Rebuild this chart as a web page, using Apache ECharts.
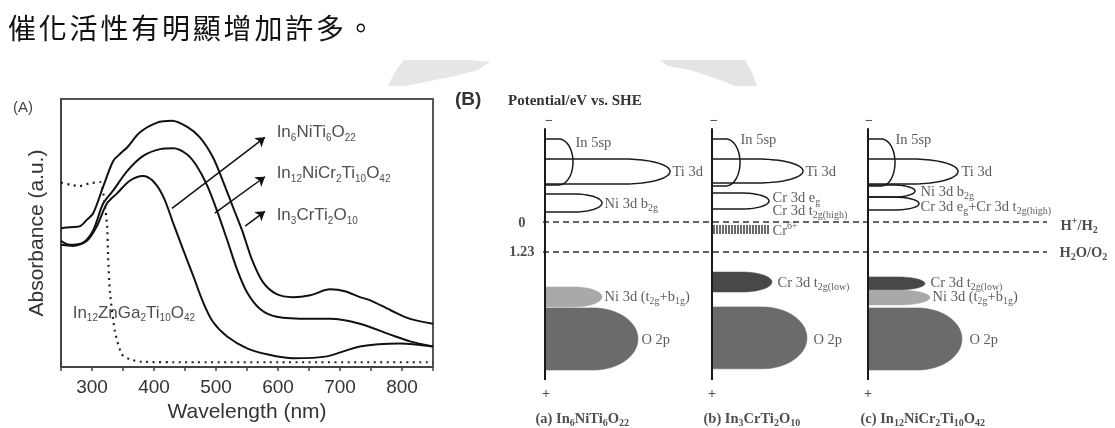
<!DOCTYPE html>
<html><head><meta charset="utf-8">
<script src="https://cdn.jsdelivr.net/npm/echarts@6/dist/echarts.min.js"></script>
<style>html,body{margin:0;padding:0;background:#fff}#c{width:1115px;height:428px}</style>
</head><body><div id="c"></div>
<script>
// ---------- Panel A: absorbance spectra (wavelength nm, absorbance a.u.) ----------
const specIn3CrTi2O10 = [[250,51.8],[265,52.2],[281,52.6],[292,55],[302,57.4],[318,67.3],[334,76.8],[345,79.5],[357,82.0],[377,87.5],[405,91.2],[429,91.9],[453,89.7],[474,85.7],[495,78.3],[511,69.5],[527,59.9],[542,51.1],[558,40.1],[576,31.6],[598,27.2],[624,26.1],[652,26.8],[684,29.0],[708,28.3],[732,26.1],[748,25.0],[781,21.3],[813,18.0],[850,16.2]];
const specIn12NiCr2Ti10O42 = [[250,47.1],[264,45.6],[285,46.3],[302,51.1],[318,61.0],[334,65.8],[357,73.2],[382,78.7],[410,81.3],[431,81.6],[453,79.4],[469,75.0],[486,67.6],[502,58.1],[518,47.4],[534,36.4],[550,27.9],[571,21.7],[598,18.8],[652,18.0],[684,18.0],[732,16.2],[781,12.1],[813,9.6],[850,7.7]];
const specIn6NiTi6O22 = [[250,45.6],[269,45.2],[292,47.1],[308,52.6],[324,61.0],[340,64.7],[361,69.5],[382,71.3],[398,69.5],[415,63.6],[431,53.7],[447,43.8],[463,34.2],[479,24.3],[495,16.9],[518,11.4],[550,7.0],[582,4.8],[624,3.3],[679,4.0],[732,7.7],[797,8.8],[850,7.7]];
const specIn12ZnGa2Ti10O42 = [[250,68.8],[265,68.0],[280,67.5],[295,68.5],[313,69.0],[324,53.7],[326,40.8],[329,27.9],[337,13.2],[348,4.8],[361,2.9],[380,2.0],[450,1.8],[600,1.8],[850,1.8]];
const xTicksA = [300,400,500,600,700,800];
// label anchors [wavelength, absorbance, text]
const labelsA = [
  [597,87.5,'In{s|6}NiTi{s|6}O{s|22}'],
  [597,72.1,'In{s|12}NiCr{s|2}Ti{s|10}O{s|42}'],
  [597,56.6,'In{s|3}CrTi{s|2}O{s|10}'],
  [268,20.2,'In{s|12}ZnGa{s|2}Ti{s|10}O{s|42}']
];
// arrows [from wl, from abs, to wl, to abs]
const arrowsA = [[429,59.2,579,85.7],[498,57.4,579,71.0],[547,52.6,579,58.1]];

// ---------- Panel B: band diagrams (potential eV vs SHE) ----------
const columnOrigins = [105,272,428];           // DOS origin of columns a,b,c
const columnSpan = [-3.84,6.48];               // potential range of each column axis
const bandStates = ['empty','Ni','Cr','O','Cr6'];
// [column, E top, E bottom, DOS extent, state]
const bands = [
  [0,-3.40,-1.52,28,'empty'],[0,-2.58,-1.56,125,'empty'],[0,-1.15,-0.41,57,'empty'],[0,2.66,3.48,57,'Ni'],[0,3.52,6.07,93,'O'],
  [1,-3.40,-1.48,28,'empty'],[1,-2.58,-1.60,91,'empty'],[1,-1.19,-0.53,57,'empty'],[1,0.12,0.49,56,'Cr6'],[1,2.05,2.87,60,'Cr'],[1,3.48,6.02,95,'O'],
  [2,-3.40,-1.48,27,'empty'],[2,-2.58,-1.56,90,'empty'],[2,-1.52,-1.02,47,'empty'],[2,-1.02,-0.49,51,'empty'],[2,2.25,2.79,57,'Cr'],[2,2.79,3.40,62,'Ni'],[2,3.52,6.07,94,'O']
];
const redoxLevels = [0,1.23];
const redoxSpan = [103,607];
// [DOS x, E, text, side]
const labelsB = [
  [135,-3.24,'In 5sp','r'],[232,-2.05,'Ti 3d','r'],[164,-0.74,'Ni 3d b{s|2g}','r'],[164,3.07,'Ni 3d (t{s|2g}+b{s|1g})','r'],[201,4.84,'O 2p','r'],
  [300,-3.36,'In 5sp','r'],[365,-2.05,'Ti 3d','r'],[332,-0.98,'Cr 3d e{s|g}','r'],[332,-0.45,'Cr 3d t{s|2g(high)}','r'],[332,0.37,'Cr{u|6+}','r'],[337,2.5,'Cr 3d t{s|2g(low)}','r'],[373,4.84,'O 2p','r'],
  [455,-3.36,'In 5sp','r'],[521,-2.05,'Ti 3d','r'],[480,-1.23,'Ni 3d b{s|2g}','r'],[480,-0.61,'Cr 3d e{s|g}+Cr 3d t{s|2g(high)}','r'],[490,2.5,'Cr 3d t{s|2g(low)}','r'],[492,3.07,'Ni 3d (t{s|2g}+b{s|1g})','r'],[529,4.84,'O 2p','r']
];
const labelsBBold = [
  [86,0.04,'0','l'],[95,1.23,'1.23','l'],
  [620,0.16,'H{u|+}/H{s|2}','r'],[619,1.27,'H{s|2}O/O{s|2}','r'],
  [95,8.07,'(a) In{s|6}NiTi{s|6}O{s|22}','r'],[263,8.07,'(b) In{s|3}CrTi{s|2}O{s|10}','r'],[420,8.07,'(c) In{s|12}NiCr{s|2}Ti{s|10}O{s|42}','r']
];
const signLabels = [
  [109,-4.14,'\u2212'],[274,-4.14,'\u2212'],[429,-4.14,'\u2212'],
  [106,7.05,'+'],[272,7.05,'+'],[428,7.05,'+']
];
const headline = '催化活性有明顯增加許多。';

const SANS = 'Liberation Sans', SERIF = 'Liberation Serif';
function richSet(fam, sub, weight, color){
  return {
    s:{fontFamily:fam,fontSize:sub,fontWeight:weight,verticalAlign:'bottom',lineHeight:sub,color:color},
    u:{fontFamily:fam,fontSize:sub,fontWeight:weight,verticalAlign:'top',lineHeight:sub,color:color}
  };
}
function labelSeries(arr, xi, yi, fam, size, sub, weight, color){
  return {
    type:'scatter', xAxisIndex:xi, yAxisIndex:yi, symbolSize:1, silent:true, clip:false,
    itemStyle:{color:'transparent'}, z:10,
    data: arr.map(r=>({
      value:[r[0],r[1]],
      label:{show:true, formatter:r[2],
        position: r[3]==='l'?'left':(r[3]==='c'?'inside':'right'), distance:0,
        fontFamily:fam, fontSize:size, fontWeight:weight, color:color, lineHeight:size+4,
        rich:richSet(fam,sub,weight,color)}
    }))
  };
}

function renderBand(params, api){
  const x0=api.value(0), e1=api.value(1), e2=api.value(2), w=api.value(3), st=bandStates[api.value(4)];
  const a=api.coord([x0,e1]), b=api.coord([x0+w,e2]);
  const L=a[0], T=a[1], R=b[0], B=b[1];
  if(st==='Cr6'){
    const ch=[];
    for(let x=L+2;x<=R;x+=3) ch.push({type:'line',shape:{x1:x,y1:T,x2:x,y2:B},style:{stroke:'#505050',lineWidth:1.7}});
    return {type:'group',children:ch};
  }
  const W=R-L, ry=(B-T)/2, M=(T+B)/2;
  const rx=Math.min(W*0.5,45), xs=R-rx;
  const pts=[[L,T],[xs,T]];
  for(let i=1;i<40;i++){const t=-Math.PI/2+Math.PI*i/40; pts.push([xs+rx*Math.cos(t), M+ry*Math.sin(t)]);}
  pts.push([xs,B],[L,B]);
  const fill={empty:'none',Ni:'#a9a9a9',Cr:'#484848',O:'#6b6b6b'}[st];
  return {type:'polygon',shape:{points:pts},
    style: st==='empty'?{fill:'none',stroke:'#1a1a1a',lineWidth:1.5}:{fill:fill,stroke:fill,lineWidth:0.5}};
}

const headlineGraphics = Array.from(headline).map((ch,i)=>({
  type:'text', left:8+i*30.8, top:14, style:{text:ch, font:'28px "Noto Sans CJK TC"', fill:'#111'}
}));
// faint watermark remnants above the figure
const watermark = [
  {type:'polygon',shape:{points:[[388,86],[395,72],[404,60],[440,60],[470,60],[490,62],[478,70],[455,76],[425,82],[405,86]]},style:{fill:'#e6e6e6'},z:-1},
  {type:'polygon',shape:{points:[[660,60],[745,60],[752,72],[757,86],[735,86],[715,78],[690,70],[668,66]]},style:{fill:'#e4e4e4'},z:-1}
];

const lineStyleA = {color:'#111',width:2};
const chart = echarts.init(document.getElementById('c'),null,{renderer:'canvas'});
chart.setOption({
  animation:false,
  backgroundColor:'#fff',
  grid:[
    {left:61,top:99,width:372,height:272,show:true,borderColor:'#555',borderWidth:2},
    {left:440,top:100,width:675,height:324.5,show:false}
  ],
  xAxis:[
    {type:'value',gridIndex:0,min:250,max:850,interval:50,
     name:'Wavelength (nm)',nameLocation:'middle',nameGap:34,
     nameTextStyle:{fontFamily:SANS,fontSize:21,color:'#333'},
     axisLine:{lineStyle:{color:'#444',width:2}},
     axisTick:{show:true,length:4,lineStyle:{color:'#444',width:1.5}},
     axisLabel:{fontFamily:SANS,fontSize:19,color:'#333',margin:11,
       formatter:v=>xTicksA.indexOf(v)>=0?String(v):''},
     splitLine:{show:false}},
    {type:'value',gridIndex:1,min:0,max:675,show:false}
  ],
  yAxis:[
    {type:'value',gridIndex:0,min:0,max:100,
     name:'Absorbance (a.u.)',nameLocation:'middle',nameGap:13,
     nameTextStyle:{fontFamily:SANS,fontSize:21,color:'#333'},
     axisLine:{show:true,lineStyle:{color:'#444',width:2}},
     axisTick:{show:false},axisLabel:{show:false},splitLine:{show:false}},
    {type:'value',gridIndex:1,min:-5,max:8.3,inverse:true,show:false}
  ],
  graphic: watermark.concat(headlineGraphics).concat([
    {type:'text',left:13,top:100,style:{text:'(A)',font:'15px "Liberation Sans"',fill:'#444'}},
    {type:'text',left:455,top:90,style:{text:'(B)',font:'bold 19px "Liberation Sans"',fill:'#333'}},
    {type:'text',left:508,top:94,style:{text:'Potential/eV vs. SHE',font:'bold 15px "Liberation Serif"',fill:'#333'}}
  ]),
  series:[
    {name:'In3CrTi2O10',type:'line',xAxisIndex:0,yAxisIndex:0,data:specIn3CrTi2O10,showSymbol:false,smooth:0.3,lineStyle:lineStyleA},
    {name:'In12NiCr2Ti10O42',type:'line',xAxisIndex:0,yAxisIndex:0,data:specIn12NiCr2Ti10O42,showSymbol:false,smooth:0.3,lineStyle:lineStyleA},
    {name:'In6NiTi6O22',type:'line',xAxisIndex:0,yAxisIndex:0,data:specIn6NiTi6O22,showSymbol:false,smooth:0.3,lineStyle:lineStyleA},
    {name:'In12ZnGa2Ti10O42',type:'line',xAxisIndex:0,yAxisIndex:0,data:specIn12ZnGa2Ti10O42,showSymbol:false,smooth:0.2,
     lineStyle:{color:'#222',width:2.2,type:[2,4.5]}},
    {type:'lines',coordinateSystem:'cartesian2d',xAxisIndex:0,yAxisIndex:0,symbol:['none','arrow'],symbolSize:9,silent:true,
     lineStyle:{color:'#111',width:1.5,opacity:1,curveness:0},
     data:arrowsA.map(a=>({coords:[[a[0],a[1]],[a[2],a[3]]]}))},
    labelSeries(labelsA,0,0,SANS,17,10,'normal','#222'),
    // panel B
    {type:'lines',coordinateSystem:'cartesian2d',xAxisIndex:1,yAxisIndex:1,silent:true,
     lineStyle:{color:'#333',width:1.5,opacity:1,type:[6,4]},
     data:redoxLevels.map(e=>({coords:[[redoxSpan[0],e],[redoxSpan[1],e]]}))},
    {type:'custom',xAxisIndex:1,yAxisIndex:1,renderItem:renderBand,silent:true,clip:false,
     encode:{x:[0],y:[1,2]},
     data:bands.map(b=>[columnOrigins[b[0]],b[1],b[2],b[3],bandStates.indexOf(b[4])])},
    {type:'lines',coordinateSystem:'cartesian2d',xAxisIndex:1,yAxisIndex:1,silent:true,z:5,
     lineStyle:{color:'#1a1a1a',width:2,opacity:1},
     data:columnOrigins.map(x=>({coords:[[x,columnSpan[0]],[x,columnSpan[1]]]}))},
    labelSeries(labelsB,1,1,SERIF,14.5,10,'normal','#333'),
    labelSeries(labelsBBold,1,1,SERIF,14.5,10,'bold','#222'),
    labelSeries(signLabels.map(r=>[r[0],r[1],r[2],'c']),1,1,SERIF,14,10,'bold','#222')
  ]
});
</script></body></html>
